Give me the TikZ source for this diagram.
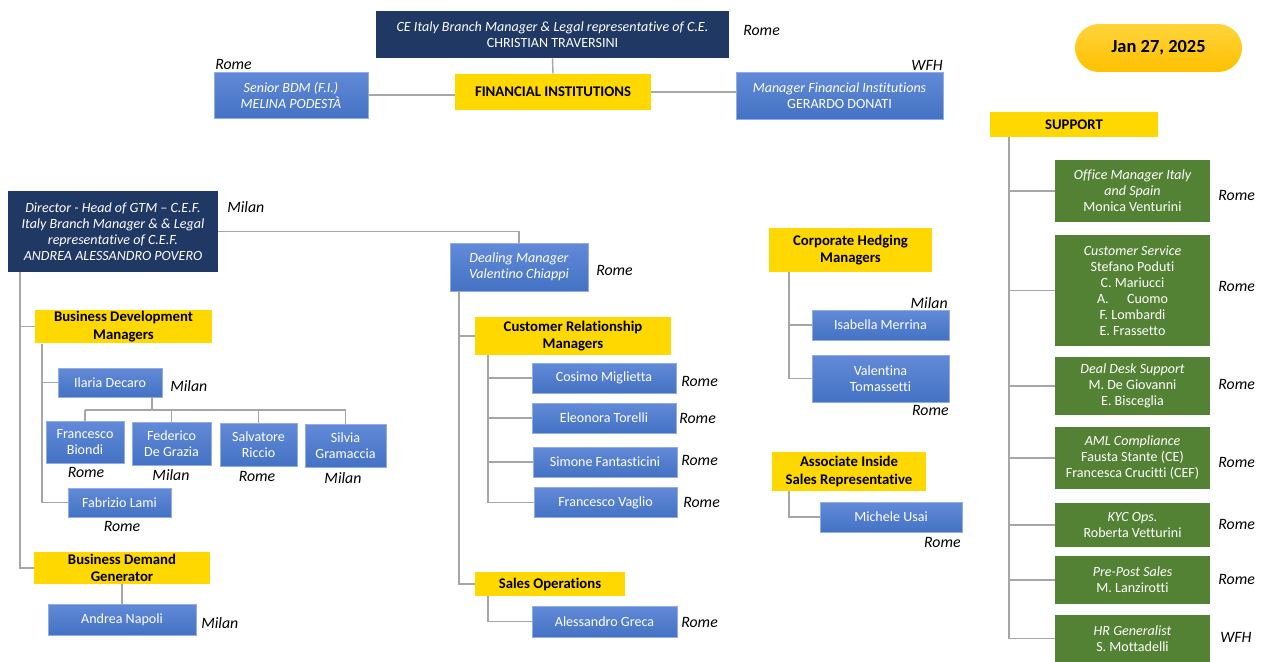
\documentclass[tikz,border=0pt]{standalone}
\usepackage{fontspec}
\setmainfont{Carlito}[Ligatures=NoCommon]
\definecolor{navy}{HTML}{203864}
\definecolor{boxblue}{HTML}{4472C4}
\definecolor{boxbluetop}{HTML}{628AD8}
\definecolor{headyellow}{HTML}{FFD800}
\definecolor{supportgreen}{HTML}{548235}
\definecolor{linegray}{HTML}{A6A6A6}
\definecolor{dateyellow}{HTML}{FFC000}
\definecolor{dateyellowtop}{HTML}{FFD43B}

\begin{document}
\begin{tikzpicture}[x=0.02cm, y=-0.02cm,
    every node/.style={font=\fontsize{8}{9.1}\selectfont, align=center, inner sep=1pt},
    boxsize/.style 2 args={minimum width=#1cm, minimum height=#2cm},
    navybox/.style={fill=navy, text=white},
    bluebox/.style={top color=boxbluetop, bottom color=boxblue, draw=boxbluetop!70!white, line width=0.3pt, text=white},
    greenbox/.style={fill=supportgreen, text=white},
    yellowhead/.style={fill=headyellow, font=\fontsize{8.4}{10}\selectfont\bfseries},
    datepill/.style={top color=dateyellowtop, bottom color=dateyellow, rounded corners=0.48cm, font=\fontsize{10.5}{12}\selectfont\bfseries},
    loc/.style={font=\fontsize{9}{10}\selectfont\itshape, inner sep=0pt},
    link/.style={draw=linegray, line width=0.8pt}]
    \useasboundingbox (0,0) rectangle (1267,662);

    % top: financial institutions
    \node[navybox, boxsize={7.06}{0.94}] (ce) at (552.5,34.5) {\textit{CE Italy Branch Manager \& Legal representative of C.E.}\\CHRISTIAN TRAVERSINI};
    \node[yellowhead, boxsize={3.92}{0.72}] (fi) at (553,92) {FINANCIAL INSTITUTIONS};
    \node[bluebox, boxsize={3.08}{0.92}] (sbdm) at (291,95) {\itshape Senior BDM (F.I.)\\\itshape MELINA PODESTÀ};
    \node[bluebox, boxsize={4.14}{0.94}] (mfi) at (839.5,95.5) {\textit{Manager Financial Institutions}\\GERARDO DONATI};
    \node[datepill, boxsize={3.34}{0.96}] (date) at (1158.5,48) {Jan 27, 2025};

    \draw[link] (ce.south) -- (fi.north);
    \draw[link] (sbdm.east) -- (sbdm.east -| fi.west);
    \draw[link] (fi.east) -- (fi.east -| mfi.west);

    \node[loc, anchor=west] (celoc) at (743,30) {Rome};
    \node[loc, anchor=west] (sbdmloc) at (215,64) {Rome};
    \node[loc, anchor=east] (mfiloc) at (943,65) {WFH};

    % left: director and business development
    \node[navybox, boxsize={4.2}{1.62}] (dir) at (113,231.5) {\itshape Director - Head of GTM -- C.E.F.\\\itshape Italy Branch Manager \& \& Legal\\\itshape representative of C.E.F.\\\itshape ANDREA ALESSANDRO POVERO};
    \node[bluebox, boxsize={2.76}{0.96}] (dm) at (519,267) {\itshape Dealing Manager\\\itshape Valentino Chiappi};
    \node[yellowhead, boxsize={3.54}{0.66}] (bdm) at (123.5,326.5) {Business Development\\Managers};
    \node[bluebox, boxsize={2.08}{0.58}] (ilaria) at (110,382.5) {Ilaria Decaro};
    \node[bluebox, boxsize={1.56}{0.84}] (biondi) at (85,442) {Francesco\\Biondi};
    \node[bluebox, boxsize={1.58}{0.86}] (federico) at (171.5,443.5) {Federico\\De Grazia};
    \node[bluebox, boxsize={1.54}{0.86}] (salvatore) at (258.5,444.5) {Salvatore\\Riccio};
    \node[bluebox, boxsize={1.62}{0.86}] (silvia) at (345.5,445.5) {Silvia\\Gramaccia};
    \node[bluebox, boxsize={2.06}{0.58}] (fabrizio) at (119.5,502.5) {Fabrizio Lami};
    \node[yellowhead, boxsize={3.52}{0.64}] (bdg) at (122,568) {Business Demand\\Generator};
    \node[bluebox, boxsize={2.96}{0.62}] (napoli) at (122,619.5) {Andrea Napoli};

    \coordinate (ltrunk) at (20,0);
    \coordinate (btrunk) at (42,0);
    \coordinate (bar) at (152,410);
    \draw[link] (dir.east) -| (dm.north);
    \draw[link] (dir.south -| ltrunk) |- (bdm.west);
    \draw[link] (dir.south -| ltrunk) |- (bdg.west);
    \draw[link] (bdm.south -| btrunk) |- (ilaria.west);
    \draw[link] (bdm.south -| btrunk) |- (fabrizio.west);
    \draw[link] (ilaria.south -| bar) -- (bar);
    \draw[link] (bar -| biondi.north) -- (bar -| silvia.north);
    \foreach \n in {biondi, federico, salvatore, silvia}
        \draw[link] (bar -| \n.north) -- (\n.north);
    \draw[link] (bdg.south) -- (napoli.north);

    \node[loc, anchor=west] (dirloc) at (227,207) {Milan};
    \node[loc, anchor=west] (dmloc) at (596,270) {Rome};
    \node[loc, anchor=west] (ilarialoc) at (170,386) {Milan};
    \node[loc] (biondiloc) at (86,472) {Rome};
    \node[loc] (federicoloc) at (171,475) {Milan};
    \node[loc] (salvatoreloc) at (257,476) {Rome};
    \node[loc] (silvialoc) at (343,478) {Milan};
    \node[loc] (fabrizioloc) at (122,526) {Rome};
    \node[loc, anchor=west] (napoliloc) at (201,623) {Milan};

    % middle: dealing
    \node[yellowhead, boxsize={3.92}{0.76}] (crm) at (573,336) {Customer Relationship\\Managers};
    \node[bluebox, boxsize={2.88}{0.6}] (cosimo) at (604,378) {Cosimo Miglietta};
    \node[bluebox, boxsize={2.88}{0.6}] (eleonora) at (604,418) {Eleonora Torelli};
    \node[bluebox, boxsize={2.88}{0.6}] (simone) at (605,462) {Simone Fantasticini};
    \node[bluebox, boxsize={2.86}{0.6}] (vaglio) at (605.5,502.5) {Francesco Vaglio};
    \node[yellowhead, boxsize={3.0}{0.48}] (salesops) at (550,584) {Sales Operations};
    \node[bluebox, boxsize={2.9}{0.62}] (greca) at (604.5,621.5) {Alessandro Greca};

    \coordinate (mtrunk) at (459,0);
    \coordinate (ctrunk) at (488,0);
    \draw[link] (dm.south -| mtrunk) |- (crm.west);
    \draw[link] (dm.south -| mtrunk) |- (salesops.west);
    \foreach \n in {cosimo, eleonora, simone, vaglio}
        \draw[link] (crm.south -| ctrunk) |- (\n.west);
    \draw[link] (salesops.south -| ctrunk) |- (greca.west);

    \node[loc, anchor=west] (cosimoloc) at (681,381) {Rome};
    \node[loc, anchor=west] (eleonoraloc) at (679,418) {Rome};
    \node[loc, anchor=west] (simoneloc) at (681,460) {Rome};
    \node[loc, anchor=west] (vaglioloc) at (683,502) {Rome};
    \node[loc, anchor=west] (grecaloc) at (681,622) {Rome};

    % hedging and inside sales
    \node[yellowhead, boxsize={3.26}{0.88}] (chm) at (850.5,250) {Corporate Hedging\\Managers};
    \node[bluebox, boxsize={2.74}{0.6}] (isabella) at (880.5,325) {Isabella Merrina};
    \node[bluebox, boxsize={2.74}{0.94}] (valentina) at (880.5,378.5) {Valentina\\Tomassetti};
    \node[yellowhead, boxsize={3.08}{0.78}] (aisr) at (849,471.5) {Associate Inside\\Sales Representative};
    \node[bluebox, boxsize={2.84}{0.6}] (usai) at (891,517) {Michele Usai};

    \coordinate (htrunk) at (789,0);
    \draw[link] (chm.south -| htrunk) |- (isabella.west);
    \draw[link] (chm.south -| htrunk) |- (valentina.west);
    \draw[link] (aisr.south -| htrunk) |- (usai.west);

    \node[loc, anchor=east] (isabellaloc) at (948,303) {Milan};
    \node[loc, anchor=east] (valentinaloc) at (949,410) {Rome};
    \node[loc, anchor=east] (usailoc) at (961,542) {Rome};

    % support
    \node[yellowhead, boxsize={3.36}{0.5}] (support) at (1074,124.5) {SUPPORT};
    \node[greenbox, boxsize={3.1}{1.24}] (om) at (1132.5,191) {\itshape Office Manager Italy\\\itshape and Spain\\Monica Venturini};
    \node[greenbox, boxsize={3.1}{2.22}] (cs) at (1132.5,290.5) {\textit{Customer Service}\\Stefano Poduti\\C. Mariucci\\A.\hspace{1.3em}Cuomo\\F. Lombardi\\E. Frassetto};
    \node[greenbox, boxsize={3.1}{1.16}] (dd) at (1132.5,386) {\textit{Deal Desk Support}\\M. De Giovanni\\E. Bisceglia};
    \node[greenbox, boxsize={3.1}{1.24}] (aml) at (1132.5,458) {\textit{AML Compliance}\\Fausta Stante (CE)\\Francesca Crucitti (CEF)};
    \node[greenbox, boxsize={3.1}{0.88}] (kyc) at (1132.5,525) {\textit{KYC Ops.}\\Roberta Vetturini};
    \node[greenbox, boxsize={3.1}{0.96}] (pps) at (1132.5,580) {\textit{Pre-Post Sales}\\M. Lanzirotti};
    \node[greenbox, boxsize={3.1}{0.94}] (hr) at (1132.5,638.5) {\textit{HR Generalist}\\S. Mottadelli};

    \coordinate (strunk) at (1009,0);
    \foreach \n in {om, cs, dd, aml, kyc, pps, hr}
        \draw[link] (support.south -| strunk) |- (\n.west);

    \node[loc, anchor=west] (omloc) at (1218,195) {Rome};
    \node[loc, anchor=west] (csloc) at (1218,286) {Rome};
    \node[loc, anchor=west] (ddloc) at (1218,384) {Rome};
    \node[loc, anchor=west] (amlloc) at (1218,462) {Rome};
    \node[loc, anchor=west] (kycloc) at (1218,524) {Rome};
    \node[loc, anchor=west] (ppsloc) at (1218,579) {Rome};
    \node[loc, anchor=west] (hrloc) at (1220,637) {WFH};
\end{tikzpicture}
\end{document}
